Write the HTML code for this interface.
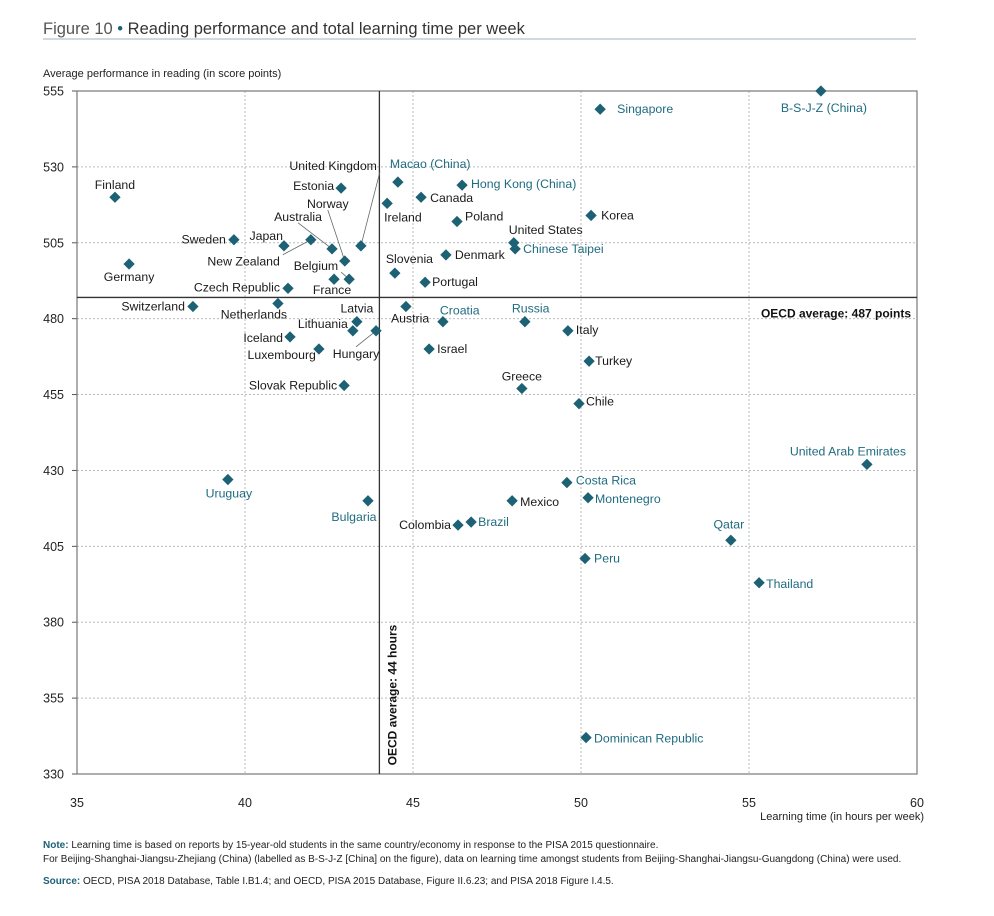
<!DOCTYPE html>
<html><head><meta charset="utf-8"><style>
body{margin:0;background:#fff;width:994px;height:911px;overflow:hidden;font-family:"Liberation Sans",sans-serif}
svg text{font-family:"Liberation Sans",sans-serif}
</style></head><body>
<svg id="chart" width="994" height="911" xmlns="http://www.w3.org/2000/svg">
<text x="43" y="34" font-size="16.5" fill="#333"><tspan fill="#555">Figure 10</tspan><tspan fill="#1d6175"> • </tspan>Reading performance and total learning time per week</text>
<line x1="43" y1="39" x2="916" y2="39" stroke="#9bb7bd" stroke-width="1"/>
<text x="43" y="77" font-size="11" fill="#222">Average performance in reading (in score points)</text>
<text x="924" y="820" font-size="11" fill="#222" text-anchor="end">Learning time (in hours per week)</text>
<g id="grid"></g>
<g id="marks"></g>
<text x="43" y="848" font-size="10" fill="#222"><tspan font-weight="bold" fill="#1d6175">Note:</tspan> Learning time is based on reports by 15-year-old students in the same country/economy in response to the PISA 2015 questionnaire.</text>
<text x="43" y="862" font-size="10" fill="#222">For Beijing-Shanghai-Jiangsu-Zhejiang (China) (labelled as B-S-J-Z [China] on the figure), data on learning time amongst students from Beijing-Shanghai-Jiangsu-Guangdong (China) were used.</text>
<text x="43" y="884" font-size="10" fill="#222"><tspan font-weight="bold" fill="#1d6175">Source:</tspan> OECD, PISA 2018 Database, Table I.B1.4; and OECD, PISA 2015 Database, Figure II.6.23; and PISA 2018 Figure I.4.5.</text>
</svg>
<script>
const countries=["Finland","Germany","Sweden","Switzerland","Japan","New Zealand","Australia","Norway","United Kingdom","Estonia","Belgium","France","Czech Republic","Netherlands","Latvia","Lithuania","Hungary","Iceland","Luxembourg","Slovak Republic","Macao (China)","Hong Kong (China)","Canada","Ireland","Poland","Korea","United States","Chinese Taipei","Denmark","Slovenia","Portugal","Austria","Croatia","Russia","Italy","Israel","Turkey","Greece","Chile","Singapore","B-S-J-Z (China)","United Arab Emirates","Uruguay","Bulgaria","Costa Rica","Mexico","Montenegro","Colombia","Brazil","Qatar","Peru","Thailand","Dominican Republic"];
const hours=[36.13,36.55,39.67,38.45,41.16,41.96,42.59,42.97,43.45,42.86,43.1,42.65,41.28,40.98,43.33,43.21,43.9,41.34,42.2,42.95,44.55,46.46,45.24,44.23,46.31,50.3,48.0,48.04,45.98,44.46,45.36,44.79,45.89,48.33,49.61,45.48,50.24,48.24,49.94,50.57,57.14,58.51,39.49,43.66,49.58,47.95,50.21,46.34,46.73,54.46,50.12,55.3,50.15];
const scores=[520,498,506,484,504,506,503,499,504,523,493,493,490,485,479,476,476,474,470,458,525,524,520,518,512,514,505,503,501,495,492,484,479,479,476,470,466,457,452,549,555,432,427,420,426,420,421,412,413,407,401,393,342];
const partner=[0,0,0,0,0,0,0,0,0,0,0,0,0,0,0,0,0,0,0,0,1,1,0,0,0,0,0,1,0,0,0,0,1,1,0,0,0,0,0,1,1,1,1,1,1,0,1,0,1,1,1,1,1];
// label offsets: [dx, dy, anchor, leader]
const labelPos=[[0,-8,"m"],[0,17,"m"],[-8,4,"e"],[-8,4,"e"],[-1,-6,"e"],[-31,26,"e",1],[-34,-28,"m",1],[-17,-53,"m",1],[16,-76,"e",1],[-7,2,"e"],[-11,-9,"e",1],[-2,15,"m"],[-8,3,"e"],[-24,15,"m"],[0,-9,"m"],[-5,-3,"e"],[-20,27,"m",1],[-7,5,"e"],[-3,10,"e"],[-7,4,"e"],[-8,-14,"s"],[9,3,"s"],[9,5,"s"],[-3,18,"s"],[8,-1,"s"],[10,4,"s"],[-5,-9,"s"],[8,4,"s"],[9,4,"s"],[-9,-10,"s"],[7,4,"s"],[-15,16,"s"],[-3,-7,"s"],[-13,-9,"s"],[8,3,"s"],[8,4,"s"],[6,4,"s"],[0,-8,"m"],[7,2,"s"],[17,4,"s"],[3,21,"m"],[-19,-9,"m"],[1,18,"m"],[-14,20,"m"],[9,2,"s"],[8,5,"s"],[7,5,"s"],[-7,4,"e"],[7,4,"s"],[-2,-12,"m"],[9,4,"s"],[7,5,"s"],[8,5,"s"]];
const xTicks=[35,40,45,50,55,60];
const yTicks=[330,355,380,405,430,455,480,505,530,555];
const oecdHours=44, oecdScore=487;
const X0=77,X1=917,Y0=774,Y1=91;
const xs=v=>X0+(v-35)/25*(X1-X0);
const ys=v=>Y0-(v-330)/225*(Y0-Y1);
const NS="http://www.w3.org/2000/svg";
function mk(t,a,p){const e=document.createElementNS(NS,t);for(const k in a)e.setAttribute(k,a[k]);p.appendChild(e);return e;}
const grid=document.getElementById('grid'),marks=document.getElementById('marks');
xTicks.forEach(t=>{
 if(t>35&&t<60){const l=mk('line',{x1:xs(t),x2:xs(t),y1:Y1,y2:Y0,stroke:'#bbb','stroke-dasharray':'2,2'},grid);
 
 }
 const tx=mk('text',{x:xs(t),y:807,'font-size':12.5,'text-anchor':'middle',fill:'#222'},grid);tx.textContent=t;
 
 
});
yTicks.forEach(t=>{
 if(t>330&&t<555){const l=mk('line',{x1:X0,x2:X1,y1:ys(t),y2:ys(t),stroke:'#bbb','stroke-dasharray':'2,2'},grid);
 
 }
 const tk=mk('line',{x1:X0-5,x2:X0,y1:ys(t),y2:ys(t),stroke:'#555'},grid);
 
 
 const tx=mk('text',{x:64,y:ys(t)+4.5,'font-size':12.5,'text-anchor':'end',fill:'#222'},grid);tx.textContent=t;
 
 
});
const fr=mk('rect',{x:X0,y:Y1,width:X1-X0,height:Y0-Y1,fill:'none',stroke:'#777','stroke-width':1.2},grid);


const vl=mk('line',{x1:xs(oecdHours),x2:xs(oecdHours),y1:Y1,y2:Y0,stroke:'#333','stroke-width':1.3},grid);


const hl=mk('line',{x1:X0,x2:X1,y1:ys(oecdScore),y2:ys(oecdScore),stroke:'#333','stroke-width':1.3},grid);


const ht=mk('text',{x:911,y:ys(oecdScore)+20,'font-size':12,'font-weight':'bold','text-anchor':'end',fill:'#111'},grid);
ht.textContent='OECD average: '+oecdScore+' points';


const vt=mk('text',{x:0,y:0,'font-size':12,'font-weight':'bold','text-anchor':'middle',fill:'#111',transform:`translate(${xs(oecdHours)+17},695) rotate(-90)`},grid);
vt.textContent='OECD average: '+oecdHours+' hours';


countries.forEach((c,i)=>{
 const px=xs(hours[i]),py=ys(scores[i]),lp=labelPos[i];
 const lx=px+lp[0],ly=py+lp[1];
 if(lp[3]){const ll=mk('line',{x1:px,y1:py,x2:lx+(lp[2]=='e'?3:0),y2:ly-(lp[1]<0?-2:11),stroke:'#666','stroke-width':0.8},marks);
  
  }
 const d=mk('rect',{x:px-4,y:py-4,width:8,height:8,fill:'#1d6175',transform:`rotate(45 ${px} ${py})`},marks);
 
 
 const t=mk('text',{x:lx,y:ly,'font-size':12.3,'text-anchor':lp[2]=='m'?'middle':lp[2]=='e'?'end':'start',fill:partner[i]?'#1f6b80':'#1a1a1a'},marks);
 t.textContent=c;
 
 
});
</script>
</body></html>
